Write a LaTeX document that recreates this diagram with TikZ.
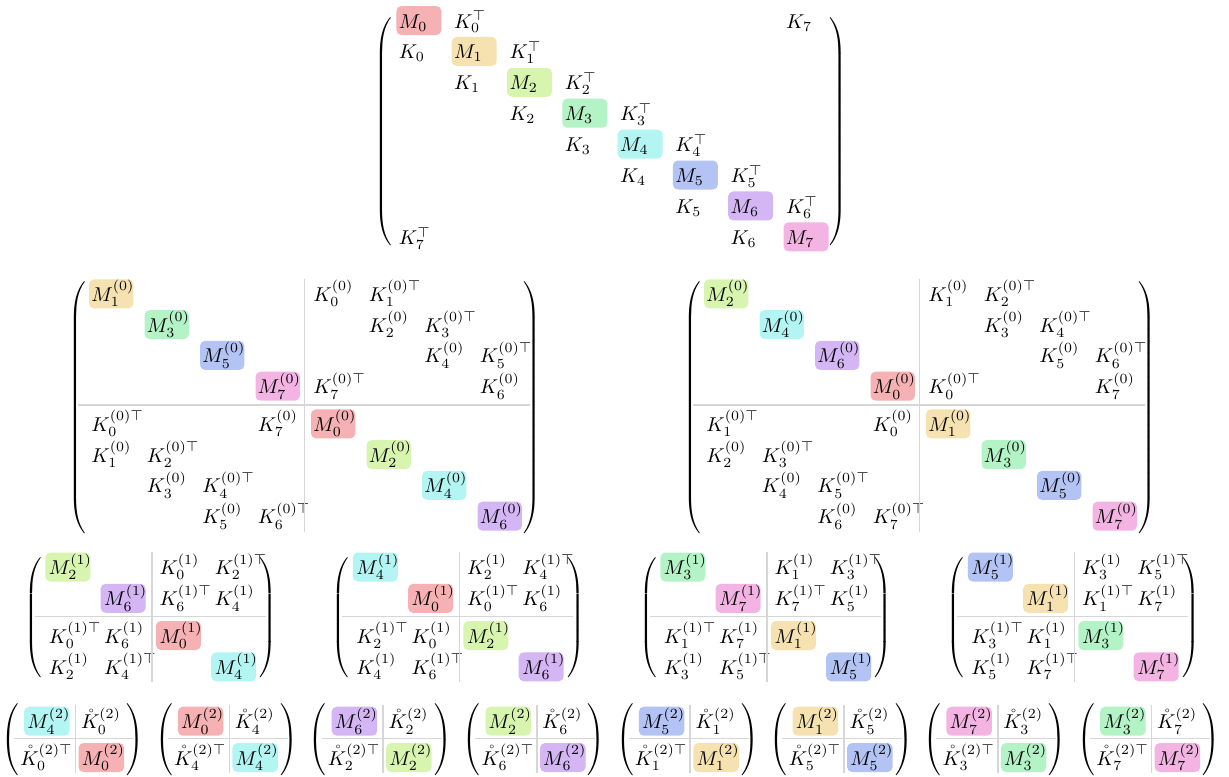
\documentclass[tikz,border=0pt]{standalone}
\definecolor{cM0}{RGB}{245,177,179}
\definecolor{cM1}{RGB}{245,226,176}
\definecolor{cM2}{RGB}{216,245,176}
\definecolor{cM3}{RGB}{179,243,198}
\definecolor{cM4}{RGB}{178,245,242}
\definecolor{cM5}{RGB}{179,195,243}
\definecolor{cM6}{RGB}{211,182,243}
\definecolor{cM7}{RGB}{243,179,227}
\definecolor{divgray}{RGB}{214,214,214}
\delimiterfactor=1000
\delimitershortfall=0pt
\tikzset{
  ent/.style={anchor=base west, inner sep=0pt},
  centent/.style={anchor=base, inner sep=0pt},
  mbox/.style={anchor=base west, inner sep=0pt, text height=11pt, text depth=3.5pt, fill=#1, rounded corners=2.5pt},
  paren/.style={inner sep=0pt},
  divline/.style={draw=divgray, line width=0.75pt},
}
\newcommand\Kat[4]{\node[ent] (#1) at ({\mX+(#2)*\mDX},{\mY+(#3)*\mDY+((#3)>(\mH-0.5))*\mG+7.5}) {$#4$};}
\newcommand\Kcen[4]{\node[centent] (#1) at ({\mX-2*\mBI+\mBW+(#2)*\mDX},{\mY+(#3)*\mDY+7.5}) {$#4$};}
\newcommand\Mat[5]{\node[mbox=#4] (#1) at ({\mX-2*\mBI+(#2)*\mDX},{\mY+(#3)*\mDY+((#3)>(\mH-0.5))*\mG+7.5}) {\makebox[\mBW pt][l]{\hspace*{\mBI pt}$#5$}};}
\newcommand\Lp[4]{\node[paren, anchor=west] (#1) at ({#2-4},#3) {$\left(\vcenter{\hbox{\vrule height #4pt width 0pt}}\right.$};}
\newcommand\Rp[4]{\node[paren, anchor=east] (#1) at ({#2+4},#3) {$\left.\vcenter{\hbox{\vrule height #4pt width 0pt}}\right)$};}
\newcommand\RowThree[6]{%
  \def\mX{#2}\def\mY{567}\def\mDX{55.3}\def\mDY{31.3}\def\mH{2}\def\mG{5.9}\def\mBW{22.5}\def\mBI{1.8}%
  \Mat{#1-ma}{0}{0}{cM#3}{M^{(1)}_#3}
  \Mat{#1-mb}{1}{1}{cM#4}{M^{(1)}_#4}
  \Mat{#1-mc}{2}{2}{cM#5}{M^{(1)}_#5}
  \Mat{#1-md}{3}{3}{cM#6}{M^{(1)}_#6}
  \Kat{#1-k1}{2}{0}{K^{(1)}_#5}
  \Kat{#1-k2}{3}{0}{K^{(1)\top}_#3}
  \Kat{#1-k3}{2}{1}{K^{(1)\top}_#4}
  \Kat{#1-k4}{3}{1}{K^{(1)}_#6}
  \Kat{#1-k5}{0}{2}{K^{(1)\top}_#5}
  \Kat{#1-k6}{1}{2}{K^{(1)}_#4}
  \Kat{#1-k7}{0}{3}{K^{(1)}_#3}
  \Kat{#1-k8}{1}{3}{K^{(1)\top}_#6}
  \coordinate (#1-vt) at ({#2+103.3},551.7);
  \coordinate (#1-vb) at ({#2+103.3},681.7);
  \coordinate (#1-hl) at ({#2-14},616.7);
  \coordinate (#1-hr) at ({#2+217},616.7);
  \draw[divline] (#1-vt) -- (#1-vb);
  \draw[divline] (#1-hl) -- (#1-hr);
  \Lp{#1-lp}{#2-20.5}{618}{60}
  \Rp{#1-rp}{#2+225}{618}{60}
}
\newcommand\RowFour[4]{%
  \def\mX{#2}\def\mY{721.2}\def\mDX{54.5}\def\mDY{36.3}\def\mH{9}\def\mG{0}\def\mBW{22.75}\def\mBI{1.6}%
  \Mat{#1-ma}{0}{0}{cM#3}{M^{(2)}_#3}
  \Kcen{#1-k1}{1}{0}{\mathring{K}^{(2)}_#4}
  \Kcen{#1-k2}{0}{1}{\mathring{K}^{(2)\top}_#4}
  \Mat{#1-mb}{1}{1}{cM#4}{M^{(2)}_#4}
  \coordinate (#1-vt) at ({#2+48.6},705);
  \coordinate (#1-vb) at ({#2+48.6},773);
  \coordinate (#1-hl) at ({#2-13},738.3);
  \coordinate (#1-hr) at ({#2+107},738.3);
  \draw[divline] (#1-vt) -- (#1-vb);
  \draw[divline] (#1-hl) -- (#1-hr);
  \Lp{#1-lp}{#2-22}{740}{35}
  \Rp{#1-rp}{#2+113.5}{740}{35}
}
\begin{document}
\begin{tikzpicture}[x=0.5pt,y=-0.5pt]
\useasboundingbox (0,0) rectangle (1229,776);
\clip (0,0) rectangle (1229,776);
% ---------- top matrix ----------
\def\mX{398.5}\def\mY{20.5}\def\mDX{55.3}\def\mDY{30.9}\def\mH{99}\def\mG{0}\def\mBW{22.5}\def\mBI{1.25}
\Mat{t-m0}{0}{0}{cM0}{M_0}
\Kat{t-kt0}{1}{0}{K_0^\top}
\Kat{t-k7}{7}{0}{K_7}
\foreach \i [evaluate=\i as \j using int(\i-1)] in {1,...,6} {
  \Kat{t-k\j}{\j}{\i}{K_{\j}}
  \Mat{t-m\i}{\i}{\i}{cM\i}{M_{\i}}
  \Kat{t-kt\i}{\i+1}{\i}{K_{\i}^\top}
}
\Kat{t-kt7}{0}{7}{K_7^\top}
\Kat{t-k6}{6}{7}{K_6}
\Mat{t-m7}{7}{7}{cM7}{M_7}
\Lp{t-lp}{378}{131.5}{112}
\Rp{t-rp}{843}{131.5}{112}
% ---------- middle left ----------
\def\mX{91}\def\mY{293.8}\def\mDX{55.5}\def\mDY{30.8}\def\mH{4}\def\mG{6.8}\def\mBW{22.2}\def\mBI{1.2}
\Mat{a-m1}{0}{0}{cM1}{M^{(0)}_1}
\Mat{a-m3}{1}{1}{cM3}{M^{(0)}_3}
\Mat{a-m5}{2}{2}{cM5}{M^{(0)}_5}
\Mat{a-m7}{3}{3}{cM7}{M^{(0)}_7}
\Mat{a-m0}{4}{4}{cM0}{M^{(0)}_0}
\Mat{a-m2}{5}{5}{cM2}{M^{(0)}_2}
\Mat{a-m4}{6}{6}{cM4}{M^{(0)}_4}
\Mat{a-m6}{7}{7}{cM6}{M^{(0)}_6}
\Kat{a-k0}{4}{0}{K^{(0)}_0}
\Kat{a-kt1}{5}{0}{K^{(0)\top}_1}
\Kat{a-k2}{5}{1}{K^{(0)}_2}
\Kat{a-kt3}{6}{1}{K^{(0)\top}_3}
\Kat{a-k4}{6}{2}{K^{(0)}_4}
\Kat{a-kt5}{7}{2}{K^{(0)\top}_5}
\Kat{a-kt7}{4}{3}{K^{(0)\top}_7}
\Kat{a-k6}{7}{3}{K^{(0)}_6}
\Kat{a-kt0}{0}{4}{K^{(0)\top}_0}
\Kat{a-k7}{3}{4}{K^{(0)}_7}
\Kat{a-k1}{0}{5}{K^{(0)}_1}
\Kat{a-kt2}{1}{5}{K^{(0)\top}_2}
\Kat{a-k3}{1}{6}{K^{(0)}_3}
\Kat{a-kt4}{2}{6}{K^{(0)\top}_4}
\Kat{a-k5}{2}{7}{K^{(0)}_5}
\Kat{a-kt6}{3}{7}{K^{(0)\top}_6}
\coordinate (a-vt) at (304.3,279);
\coordinate (a-vb) at (304.3,532);
\coordinate (a-hl) at (78,405);
\coordinate (a-hr) at (530,405);
\draw[divline] (a-vt) -- (a-vb);
\draw[divline] (a-hl) -- (a-hr);
\Lp{a-lp}{72}{407.5}{125.5}
\Rp{a-rp}{537}{407.5}{125.5}
% ---------- middle right ----------
\def\mX{706}
\Mat{b-m2}{0}{0}{cM2}{M^{(0)}_2}
\Mat{b-m4}{1}{1}{cM4}{M^{(0)}_4}
\Mat{b-m6}{2}{2}{cM6}{M^{(0)}_6}
\Mat{b-m0}{3}{3}{cM0}{M^{(0)}_0}
\Mat{b-m1}{4}{4}{cM1}{M^{(0)}_1}
\Mat{b-m3}{5}{5}{cM3}{M^{(0)}_3}
\Mat{b-m5}{6}{6}{cM5}{M^{(0)}_5}
\Mat{b-m7}{7}{7}{cM7}{M^{(0)}_7}
\Kat{b-k1}{4}{0}{K^{(0)}_1}
\Kat{b-kt2}{5}{0}{K^{(0)\top}_2}
\Kat{b-k3}{5}{1}{K^{(0)}_3}
\Kat{b-kt4}{6}{1}{K^{(0)\top}_4}
\Kat{b-k5}{6}{2}{K^{(0)}_5}
\Kat{b-kt6}{7}{2}{K^{(0)\top}_6}
\Kat{b-kt0}{4}{3}{K^{(0)\top}_0}
\Kat{b-k7}{7}{3}{K^{(0)}_7}
\Kat{b-kt1}{0}{4}{K^{(0)\top}_1}
\Kat{b-k0}{3}{4}{K^{(0)}_0}
\Kat{b-k2}{0}{5}{K^{(0)}_2}
\Kat{b-kt3}{1}{5}{K^{(0)\top}_3}
\Kat{b-k4}{1}{6}{K^{(0)}_4}
\Kat{b-kt5}{2}{6}{K^{(0)\top}_5}
\Kat{b-k6}{2}{7}{K^{(0)}_6}
\Kat{b-kt7}{3}{7}{K^{(0)\top}_7}
\coordinate (b-vt) at (919.3,279);
\coordinate (b-vb) at (919.3,532);
\coordinate (b-hl) at (693,405);
\coordinate (b-hr) at (1145,405);
\draw[divline] (b-vt) -- (b-vb);
\draw[divline] (b-hl) -- (b-hr);
\Lp{b-lp}{687}{407.5}{125.5}
\Rp{b-rp}{1152}{407.5}{125.5}
% ---------- third row ----------
\RowThree{ca}{48.5}{2}{6}{0}{4}
\RowThree{cb}{356}{4}{0}{2}{6}
\RowThree{cc}{663.5}{3}{7}{1}{5}
\RowThree{cd}{971}{5}{1}{3}{7}
% ---------- fourth row ----------
\RowFour{da}{26.9}{4}{0}
\RowFour{db}{180.7}{0}{4}
\RowFour{dc}{334.5}{6}{2}
\RowFour{dd}{488.3}{2}{6}
\RowFour{de}{641.6}{5}{1}
\RowFour{df}{795.4}{1}{5}
\RowFour{dg}{949.2}{7}{3}
\RowFour{dh}{1103}{3}{7}
\end{tikzpicture}
\end{document}
